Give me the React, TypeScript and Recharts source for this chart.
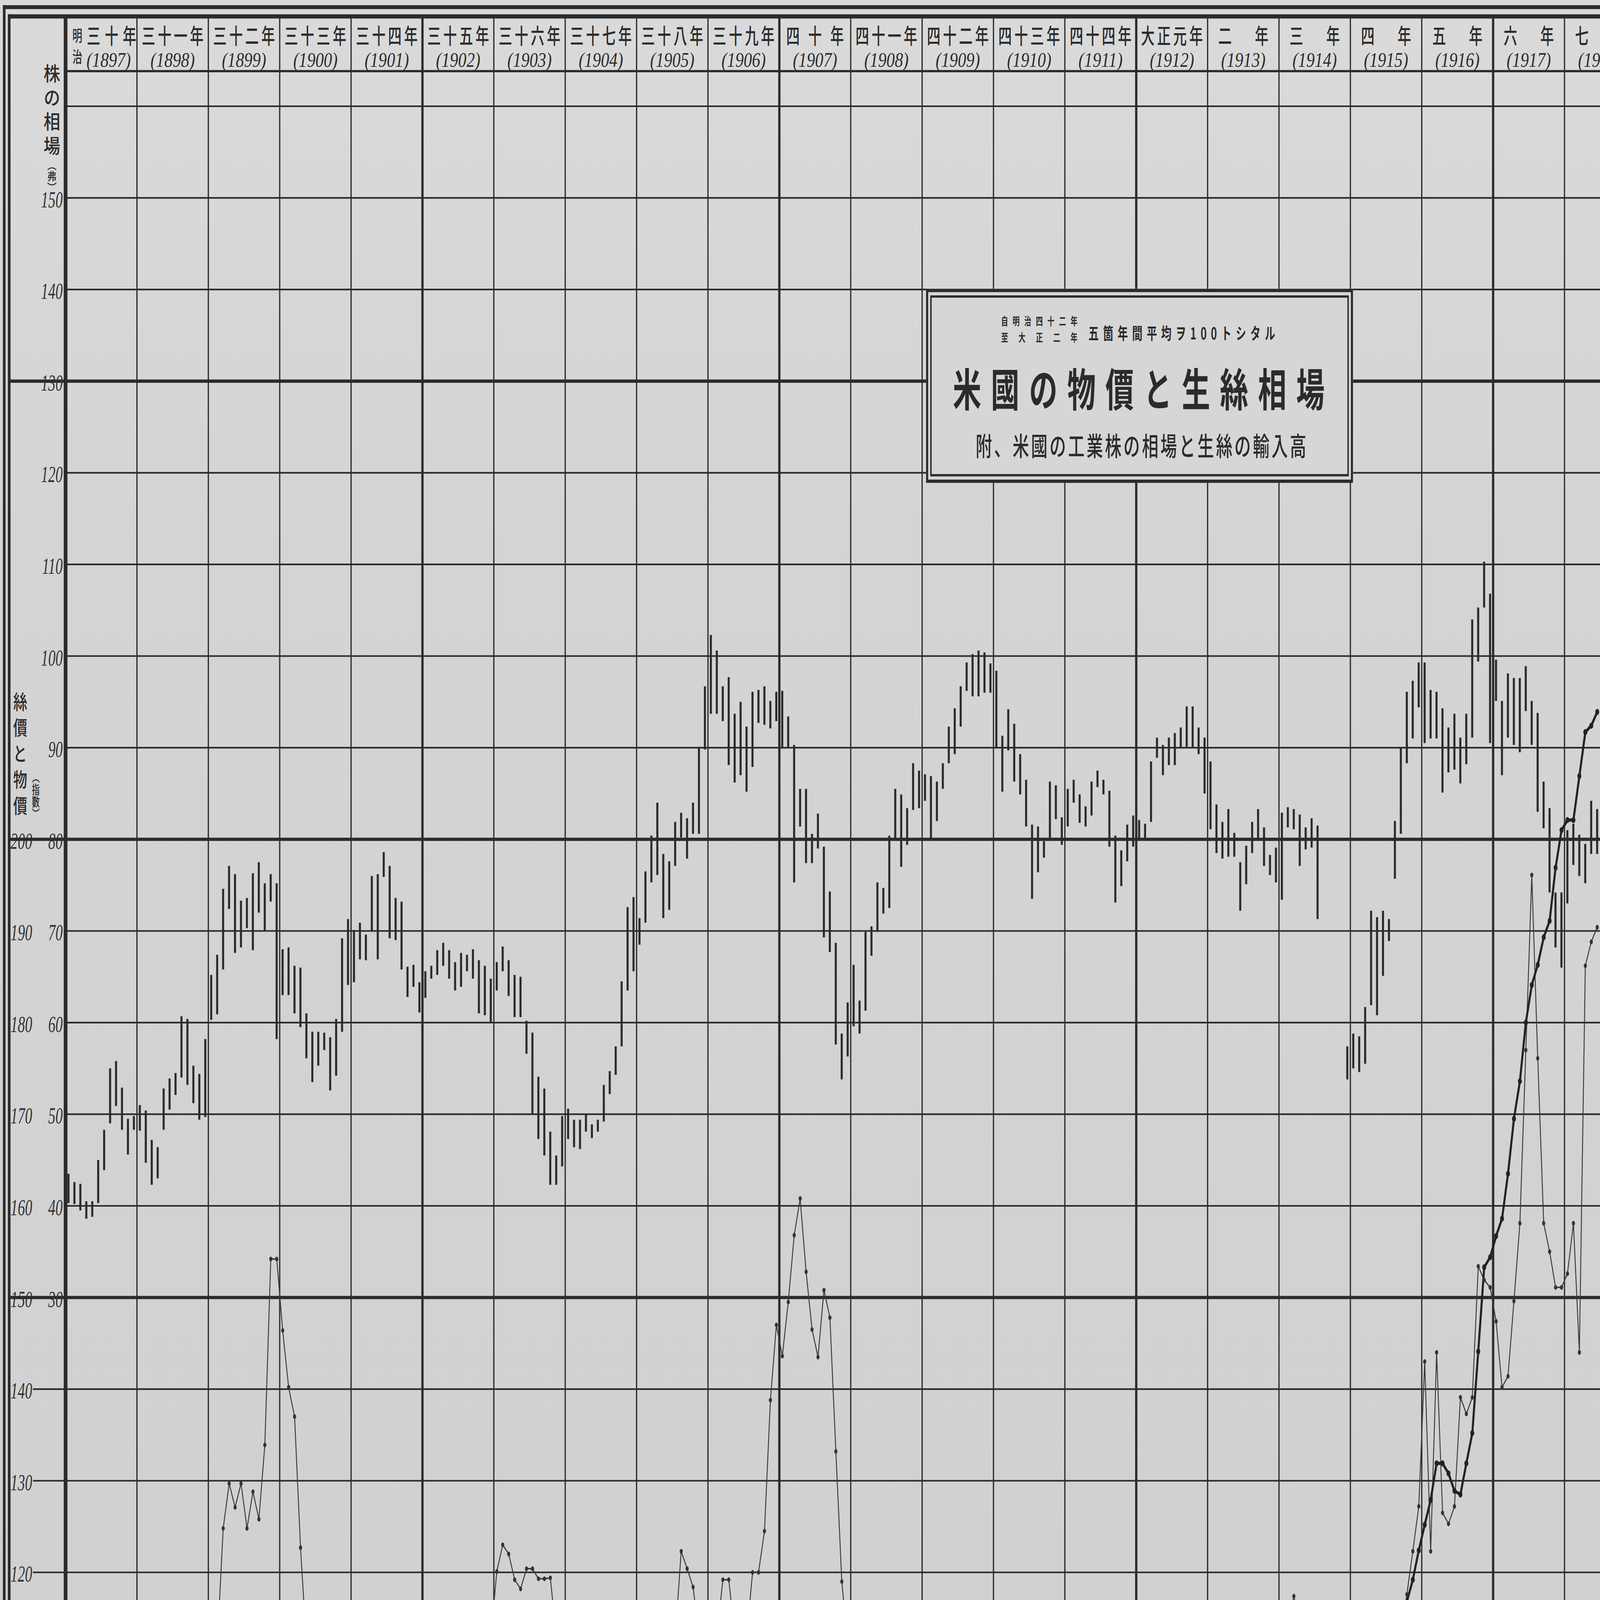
import React from "react";
import {
  ComposedChart,
  Bar,
  Line,
  XAxis,
  YAxis,
  ReferenceLine,
  ReferenceArea,
} from "recharts";

const _ = null;

const YEARS = [
  1897, 1898, 1899, 1900, 1901, 1902, 1903, 1904, 1905, 1906, 1907,
  1908, 1909, 1910, 1911, 1912, 1913, 1914, 1915, 1916, 1917, 1918,
];

const YEAR_KANJI = [
  "三十年", "三十一年", "三十二年", "三十三年", "三十四年", "三十五年",
  "三十六年", "三十七年", "三十八年", "三十九年", "四十年", "四十一年",
  "四十二年", "四十三年", "四十四年", "大正元年", "二年", "三年",
  "四年", "五年", "六年", "七年",
];

const ERA_MARK: Record<number, string> = { 1897: "明治" };

// 米國工業株 月別高低 (弗)
const STOCK_HIGH = [
  [43.5, 42.6, 42.4, 40.5, 40.5, 45.0, 48.3, 55.0, 55.8, 52.9, 49.5, 49.8],
  [51.0, 50.4, 47.2, 46.4, 52.8, 53.9, 54.5, 60.7, 60.4, 55.3, 54.4, 58.2],
  [65.2, 67.4, 74.6, 77.1, 76.2, 73.3, 73.6, 76.3, 77.5, 75.2, 76.2, 75.2],
  [68.0, 68.2, 66.2, 66.0, 61.0, 59.0, 59.0, 58.9, 58.4, 60.4, 69.2, 71.3],
  [70.1, 70.9, 69.6, 76.0, 76.2, 78.6, 77.1, 73.6, 73.2, 66.1, 66.3, 64.4],
  [65.6, 66.2, 67.9, 68.7, 67.9, 66.6, 67.6, 67.4, 68.0, 66.8, 66.2, 64.8],
  [66.6, 68.3, 66.8, 65.2, 65.0, 60.2, 58.9, 54.1, 52.8, 48.1, 45.5, 49.8],
  [50.6, 49.4, 49.4, 50.0, 48.9, 49.4, 53.2, 54.7, 57.4, 64.5, 72.6, 73.7],
  [71.4, 76.5, 80.4, 84.0, 78.4, 77.6, 81.9, 82.9, 82.3, 84.0, 90.0, 96.7],
  [102.3, 100.6, 96.7, 97.7, 93.7, 95.0, 92.3, 96.1, 96.3, 96.7, 95.1, 96.1],
  [96.2, 93.4, 90.3, 85.5, 85.5, 80.6, 82.8, 79.2, 74.3, 68.7, 58.8, 62.2],
  [66.3, 62.4, 69.9, 70.5, 75.3, 74.7, 80.4, 85.5, 84.9, 83.4, 88.3, 87.5],
  [87.1, 86.9, 86.3, 88.3, 92.3, 94.3, 96.7, 99.3, 100.2, 100.6, 100.4, 99.2],
  [98.4, 91.3, 94.2, 92.6, 89.3, 86.5, 81.6, 81.4, 79.8, 86.3, 85.9, 82.4],
  [85.5, 86.5, 84.9, 83.6, 86.3, 87.5, 86.5, 85.3, 80.4, 78.8, 81.6, 82.6],
  [82.1, 81.7, 88.5, 91.1, 90.3, 91.1, 91.6, 92.2, 94.5, 94.5, 92.2, 91.1],
  [88.5, 83.8, 81.9, 83.3, 80.7, 77.5, 79.3, 81.9, 83.3, 81.3, 78.3, 79.1],
  [82.9, 83.5, 83.3, 82.7, 81.3, 82.3, 81.5, _, _, _, _, 57.4],
  [58.8, 58.5, 61.7, 72.2, 71.5, 72.2, 71.3, 82.0, 90.0, 96.1, 97.3, 99.3],
  [99.3, 96.3, 96.1, 94.3, 92.2, 93.7, 91.1, 93.7, 104.0, 105.3, 110.3, 106.8],
  [99.6, 95.1, 98.1, 97.6, 97.6, 98.9, 95.1, 93.8, 86.3, 83.4, 74.2, 74.2],
  [81.0, 81.7, 80.5, 79.5, 84.2, 83.3, _, _, _, _, _, _],
];

const STOCK_LOW = [
  [40.3, 40.2, 39.5, 38.6, 38.8, 40.3, 43.9, 49.0, 50.9, 48.3, 45.6, 48.3],
  [48.2, 44.7, 42.3, 43.0, 48.3, 50.5, 52.1, 54.0, 53.2, 51.2, 49.4, 49.7],
  [60.3, 60.9, 65.8, 72.4, 67.6, 68.2, 70.3, 67.9, 72.0, 70.0, 73.2, 58.2],
  [63.0, 63.0, 61.0, 59.5, 56.1, 53.5, 55.3, 57.0, 52.6, 54.2, 59.0, 64.1],
  [64.4, 66.9, 66.8, 70.0, 66.9, 75.9, 69.2, 69.0, 65.8, 62.8, 63.9, 61.1],
  [62.7, 64.8, 65.2, 66.2, 64.8, 63.5, 63.9, 65.6, 64.8, 61.0, 60.8, 60.0],
  [63.5, 65.6, 62.9, 60.6, 60.6, 56.6, 50.0, 47.3, 45.5, 42.3, 42.3, 44.3],
  [47.3, 46.4, 46.2, 48.1, 47.4, 48.1, 49.2, 52.2, 54.3, 57.4, 63.5, 65.6],
  [68.5, 70.9, 75.3, 76.1, 71.4, 72.3, 77.1, 80.2, 77.9, 80.6, 80.6, 89.8],
  [93.7, 93.7, 92.9, 88.1, 86.2, 87.0, 85.2, 87.9, 92.7, 92.5, 92.1, 92.9],
  [90.0, 90.0, 75.3, 81.4, 77.4, 77.4, 79.0, 69.3, 67.7, 57.6, 53.8, 56.3],
  [59.6, 58.8, 61.3, 67.3, 69.9, 71.9, 72.5, 80.0, 77.0, 79.4, 83.2, 83.4],
  [84.2, 80.0, 82.0, 85.5, 88.3, 89.3, 92.3, 96.2, 95.6, 95.6, 96.0, 96.0],
  [90.0, 85.2, 89.7, 86.3, 84.9, 81.4, 73.5, 76.4, 78.0, 80.0, 82.2, 79.4],
  [81.4, 84.0, 81.8, 81.4, 82.6, 85.7, 84.9, 79.2, 73.1, 74.9, 77.6, 79.2],
  [80.1, 80.1, 81.9, 88.9, 87.0, 88.1, 88.1, 90.0, 90.1, 90.0, 89.3, 85.0],
  [81.1, 78.5, 77.9, 78.1, 78.1, 72.2, 75.1, 78.5, 80.1, 77.1, 76.1, 75.3],
  [73.4, 81.3, 81.1, 77.1, 78.9, 79.1, 71.3, _, _, _, _, 53.8],
  [55.0, 54.6, 55.5, 61.9, 60.8, 65.1, 68.9, 75.7, 80.6, 88.3, 91.0, 94.4],
  [90.5, 91.0, 91.0, 85.1, 87.3, 87.6, 86.1, 88.2, 91.1, 99.4, 105.3, 90.5],
  [95.1, 87.0, 91.1, 90.3, 89.5, 94.0, 90.3, 83.0, 81.2, 74.2, 68.2, 66.0],
  [73.0, 77.2, 76.0, 75.2, 78.4, 78.4, _, _, _, _, _, _],
];

const NONE = [_, _, _, _, _, _, _, _, _, _, _, _];

// 絲價 (指數)
const SILK = [
  NONE,
  NONE,
  [_, 112, 124.8, 129.7, 127.1, 129.7, 124.8, 128.8, 125.8, 133.9, 154.2, 154.2],
  [146.4, 140.2, 137.0, 122.7, 112, _, _, _, _, _, _, _],
  NONE,
  [_, _, _, _, _, _, _, _, _, _, _, 113],
  [120.1, 123.0, 122.0, 119.2, 118.2, 120.4, 120.4, 119.3, 119.3, 119.4, 113, _],
  NONE,
  [_, _, _, _, _, _, 113, 122.3, 120.4, 118.4, 113, _],
  [_, 113, 119.2, 119.2, 113, _, 113, 120.0, 120.0, 124.5, 138.8, 147.0],
  [143.6, 149.5, 156.8, 160.8, 152.8, 146.5, 143.5, 150.8, 147.8, 133.2, 119.0, 112],
  NONE,
  NONE,
  NONE,
  NONE,
  NONE,
  NONE,
  [_, 114, 117.4, 114, _, _, _, _, _, _, _, _],
  [_, _, _, _, _, _, _, _, 113, 117.6, 122.3, 127.2],
  [143.0, 122.3, 144.0, 126.5, 125.3, 127.2, 139.1, 137.3, 139.1, 153.4, 151.9, 151.1],
  [147.4, 140.2, 141.4, 149.6, 158.1, 177.0, 196.1, 176.1, 158.1, 155.0, 151.1, 151.1],
  [152.6, 158.1, 144.0, 186.2, 188.8, 190.4, _, _, _, _, _, _],
];

// 物價 (指數)
const PRICE = [
  NONE, NONE, NONE, NONE, NONE, NONE, NONE, NONE, NONE,
  NONE, NONE, NONE, NONE, NONE, NONE, NONE, NONE, NONE,
  [_, _, _, _, _, _, _, _, 114, 116.8, 119.2, 122.4],
  [125.2, 127.9, 131.9, 131.9, 130.8, 128.9, 128.5, 131.9, 135.2, 144.1, 153.3, 154.4],
  [156.7, 158.6, 163.5, 169.5, 173.6, 180.0, 184.1, 186.3, 189.3, 191.1, 196.9, 201.0],
  [202.1, 202.1, 206.9, 211.7, 212.4, 213.9, _, _, _, _, _, _],
];

const STOCK_TICKS = [150, 140, 130, 120, 110, 100, 90, 80, 70, 60, 50, 40, 30];
const INDEX_TICKS = [200, 190, 180, 170, 160, 150, 140, 130, 120];
const GRID_VALUES = [160, 150, 140, 130, 120, 110, 100, 90, 80, 70, 60, 50, 40, 30, 20, 10, 0, -10];
const THICK_VALUES = [130, 80, 30, -20];
const THICK_YEARS = [1902, 1907, 1912, 1917];
const INDEX_LEFT_LINES = [140, 130, 120];

const PAPER = "#d4d4d4";
const INK = "#2b2b2b";
const JP = "'Noto Sans CJK JP', 'Noto Sans CJK SC', sans-serif";
const NUM = "'Liberation Serif', 'DejaVu Serif', serif";

// layout of the original sheet (px)
const SHEET_W = 7759;
const SHEET_H = 4924;
const PLOT_LEFT = 318;
const STOCK_LABEL_X = 304;
const INDEX_LABEL_X = 156;
const HEADER_BOTTOM = 163.83;
const PLOT_TOP_VALUE = 169.75;

const chartData = YEARS.flatMap((year, yi) =>
  STOCK_HIGH[yi].map((high, m) => ({
    month: `${year}-${m + 1}`,
    t: year + (m + 0.5) / 12,
    range: high == null ? null : [STOCK_LOW[yi][m], high],
    silk: SILK[yi][m],
    price: PRICE[yi][m],
  }))
);

function StockTick(props: any) {
  const { y, payload } = props;
  const v = payload.value;
  return (
    <g>
      {THICK_VALUES.includes(v) && (
        <line x1={40} x2={PLOT_LEFT} y1={y} y2={y} stroke={INK} strokeWidth={10} />
      )}
      <text
        x={STOCK_LABEL_X}
        y={y + 6}
        textAnchor="end"
        dominantBaseline="central"
        fontFamily={NUM}
        fontStyle="italic"
        fontSize={70}
        fill="#333"
      >
        {v}
      </text>
    </g>
  );
}

function IndexTick(props: any) {
  const { y, payload } = props;
  const v = payload.value;
  return (
    <g>
      {INDEX_LEFT_LINES.includes(v) && (
        <line x1={INDEX_LABEL_X + 4} x2={PLOT_LEFT} y1={y} y2={y} stroke={INK} strokeWidth={5} />
      )}
      <text
        x={INDEX_LABEL_X}
        y={y + 6}
        textAnchor="end"
        dominantBaseline="central"
        fontFamily={NUM}
        fontStyle="italic"
        fontSize={70}
        fill="#333"
      >
        {v}
      </text>
    </g>
  );
}

function YearHeader(props: any) {
  const { viewBox, index } = props;
  const { x, y, width } = viewBox;
  const kanji = YEAR_KANJI[index];
  const era = ERA_MARK[YEARS[index]];
  const n = kanji.length;
  const kanjiW = n >= 4 ? 300 : n === 3 ? (era ? 240 : 280) : 244;
  const cx = x + width / 2;
  return (
    <g fill={INK}>
      {era &&
        era.split("").map((ch, i) => (
          <text
            key={ch}
            x={x + 57}
            y={y + 55 + i * 64}
            textAnchor="middle"
            dominantBaseline="central"
            fontFamily={JP}
            fontWeight={500}
            fontSize={48}
          >
            {ch}
          </text>
        ))}
      <text
        x={cx + (era ? 50 : 0)}
        y={y + 54}
        textAnchor="middle"
        dominantBaseline="central"
        fontFamily={JP}
        fontWeight={500}
        fontSize={66}
        textLength={kanjiW}
        lengthAdjust="spacing"
      >
        {kanji}
      </text>
      <text
        x={cx + (era ? 36 : 0)}
        y={y + 132}
        textAnchor="middle"
        dominantBaseline="central"
        fontFamily={NUM}
        fontStyle="italic"
        fontSize={64}
        textLength={215}
        lengthAdjust="spacingAndGlyphs"
      >
        ({YEARS[index]})
      </text>
    </g>
  );
}

function TitleBox() {
  const t = { textAnchor: "middle" as const, dominantBaseline: "central" as const, fontFamily: JP, fill: INK };
  return (
    <div
      style={{
        position: "absolute",
        left: 4491,
        top: 889,
        width: 2070,
        height: 597,
        boxSizing: "border-box",
        border: `10px solid ${INK}`,
        background: "#d6d6d6",
      }}
    >
      <div style={{ position: "absolute", left: 10, top: 10, right: 10, bottom: 10, border: `7px solid ${INK}` }} />
      <svg width={2070} height={597} style={{ position: "absolute", left: -10, top: -10 }}>
        <text {...t} x={549} y={98} fontSize={34} fontWeight={700} textLength={371} lengthAdjust="spacing">
          自明治四十二年
        </text>
        <text {...t} x={549} y={149} fontSize={34} fontWeight={700} textLength={371} lengthAdjust="spacing">
          至大正二年
        </text>
        <text {...t} x={1240} y={134} fontSize={50} fontWeight={700} textLength={905} lengthAdjust="spacing">
          五箇年間平均ヲ100トシタル
        </text>
        <text {...t} x={1031} y={301} fontSize={138} fontWeight={700} textLength={1803} lengthAdjust="spacing">
          米國の物價と生絲相場
        </text>
        <text {...t} x={1042} y={479} fontSize={80} fontWeight={500} textLength={1604} lengthAdjust="spacing">
          附、米國の工業株の相場と生絲の輸入高
        </text>
      </svg>
    </div>
  );
}

function AxisTitles() {
  const base = {
    position: "absolute" as const,
    writingMode: "vertical-rl" as const,
    fontFamily: JP,
    fontWeight: 500,
    color: INK,
    lineHeight: 1,
    whiteSpace: "nowrap" as const,
  };
  return (
    <>
      <div style={{ ...base, left: 221, top: 196, fontSize: 60, letterSpacing: 14, transform: "scaleX(1.35)" }}>
        株の相場<span style={{ fontSize: 34, letterSpacing: 0 }}>（弗）</span>
      </div>
      <div style={{ ...base, left: 67, top: 2128, fontSize: 62, letterSpacing: 18, transform: "scaleX(1.1)" }}>
        絲價と物價
      </div>
      <div style={{ ...base, left: 154, top: 2372, fontSize: 38 }}>（指數）</div>
    </>
  );
}

function Sheet() {
  return (
    <div
      style={{
        position: "relative",
        width: SHEET_W,
        height: SHEET_H,
        overflow: "hidden",
        background: `linear-gradient(180deg, #dadada 0%, ${PAPER} 35%, #d1d1d1 100%)`,
      }}
    >
      <div
        style={{
          position: "absolute",
          left: 14,
          top: 16,
          width: 9000,
          height: 6000,
          borderLeft: `13px solid ${INK}`,
          borderTop: `12px solid ${INK}`,
        }}
      />
      <div
        style={{
          position: "absolute",
          left: 38,
          top: 44,
          width: 9000,
          height: 6000,
          borderLeft: `13px solid ${INK}`,
          borderTop: `13px solid ${INK}`,
        }}
      />
      <div style={{ position: "absolute", left: 0, top: 0 }}>
        <ComposedChart
          width={7933}
          height={5121}
          data={chartData}
          margin={{ top: 52, right: 0, bottom: 0, left: 0 }}
        >
          <XAxis xAxisId="m" dataKey="month" hide />
          <XAxis
            xAxisId="yr"
            dataKey="t"
            type="number"
            domain={[1897, 1919]}
            allowDataOverflow
            hide
          />
          <YAxis
            yAxisId="idx"
            type="number"
            domain={[110, PLOT_TOP_VALUE + 120]}
            allowDataOverflow
            ticks={INDEX_TICKS}
            interval={0}
            width={160}
            axisLine={false}
            tickLine={false}
            tickSize={0}
            tickMargin={5}
            tick={(p: any) => <IndexTick {...p} />}
          />
          <YAxis
            yAxisId="stock"
            type="number"
            domain={[-10, PLOT_TOP_VALUE]}
            allowDataOverflow
            ticks={STOCK_TICKS}
            interval={0}
            width={158}
            axisLine={false}
            tickLine={false}
            tickSize={0}
            tickMargin={14}
            tick={(p: any) => <StockTick {...p} />}
          />

          {GRID_VALUES.map((v) => (
            <ReferenceLine
              key={`h${v}`}
              xAxisId="yr"
              yAxisId="stock"
              y={v}
              stroke={INK}
              strokeWidth={THICK_VALUES.includes(v) ? 10 : 5}
            />
          ))}
          <ReferenceLine xAxisId="yr" yAxisId="stock" y={HEADER_BOTTOM} stroke={INK} strokeWidth={7} />

          {YEARS.map((yr) => (
            <ReferenceLine
              key={`v${yr}`}
              xAxisId="yr"
              yAxisId="stock"
              x={yr}
              stroke={INK}
              strokeWidth={yr === 1897 ? 18 : THICK_YEARS.includes(yr) ? 11 : 6}
            />
          ))}

          {YEARS.map((yr, i) => (
            <ReferenceArea
              key={`a${yr}`}
              xAxisId="yr"
              yAxisId="stock"
              x1={yr}
              x2={yr + 1}
              y1={HEADER_BOTTOM}
              y2={PLOT_TOP_VALUE}
              fill="none"
              fillOpacity={0}
              stroke="none"
              label={(p: any) => <YearHeader {...p} index={i} />}
            />
          ))}

          <Bar
            xAxisId="m"
            yAxisId="stock"
            dataKey="range"
            barSize={10}
            fill={INK}
            isAnimationActive={false}
          />
          <Line
            xAxisId="m"
            yAxisId="idx"
            dataKey="silk"
            stroke="#3a3a3a"
            strokeWidth={4.5}
            dot={{ r: 7, fill: "#333", stroke: "#333", strokeWidth: 1 }}
            activeDot={false}
            isAnimationActive={false}
          />
          <Line
            xAxisId="m"
            yAxisId="idx"
            dataKey="price"
            stroke="#222"
            strokeWidth={10}
            dot={{ r: 9, fill: "#222", stroke: "#222", strokeWidth: 1 }}
            activeDot={false}
            isAnimationActive={false}
          />
        </ComposedChart>
      </div>
      <TitleBox />
      <AxisTitles />
    </div>
  );
}

export default function App() {
  // the browser may cap the window below the sheet size; fit the sheet to it
  const vw = typeof window !== "undefined" ? window.innerWidth : SHEET_W;
  const vh = typeof window !== "undefined" ? window.innerHeight : SHEET_H;
  const sx = Math.min(1, vw / SHEET_W);
  const sy = Math.min(1, vh / SHEET_H);
  return (
    <>
      <style>{`html,body{margin:0;padding:0;background:${PAPER};overflow:hidden;}`}</style>
      <div style={{ width: SHEET_W * sx, height: SHEET_H * sy, overflow: "hidden" }}>
        <div style={{ transform: `scale(${sx}, ${sy})`, transformOrigin: "0 0" }}>
          <Sheet />
        </div>
      </div>
    </>
  );
}
